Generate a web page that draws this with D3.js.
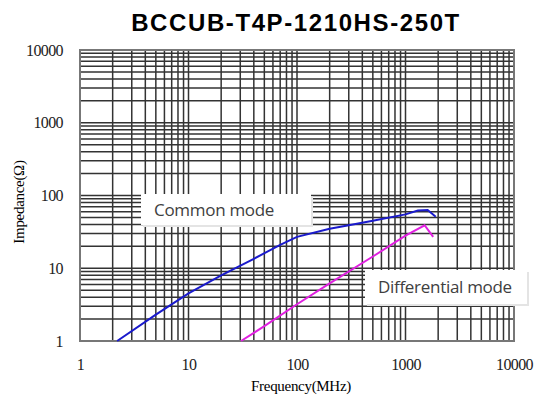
<!DOCTYPE html>
<html>
<head>
<meta charset="utf-8">
<script src="https://cdn.jsdelivr.net/npm/d3@7"></script>
<style>
  body { margin: 0; background: #fff; }
  svg { display: block; }
  .tick text { font-family: "Liberation Serif", "DejaVu Serif", serif; font-size: 16px; letter-spacing: -0.6px; fill: #222; }
  .lbl { font-family: "Open Sans", "Noto Sans", sans-serif; font-size: 17px; letter-spacing: -0.3px; fill: #404040; }
</style>
</head>
<body>
<svg id="chart" width="534" height="399"></svg>
<script>
// values (frequency MHz, impedance ohm)
const commonFreq = [2.2, 5, 10, 20, 40, 70, 100, 200, 300, 500, 1000, 1300, 1600, 1900];
const commonZ    = [1, 2.3, 4.5, 8, 13.5, 21, 27, 35, 39, 45, 55, 62, 63, 51];
const diffFreq = [30.5, 50, 100, 200, 500, 1000, 1500, 1800];
const diffZ    = [1, 1.6, 3.2, 6.2, 14.5, 28, 39, 27];
const xTicks = [1, 10, 100, 1000, 10000];
const yTicks = [1, 10, 100, 1000, 10000];

const svg = d3.select("#chart");
const margin = { left: 80, right: 20, top: 50, bottom: 58 };
const width = 534 - margin.left - margin.right;
const height = 399 - margin.top - margin.bottom;

const x = d3.scaleLog().domain([1, 10000]).range([0, width]);
const y = d3.scaleLog().domain([1, 10000]).range([height, 0]);

svg.append("text")
  .attr("x", 296)
  .attr("y", 31)
  .attr("text-anchor", "middle")
  .style("font-family", "Liberation Sans, Arial, sans-serif")
  .style("font-weight", "bold")
  .style("font-size", "24px")
  .style("letter-spacing", "1.6px")
  .text("BCCUB-T4P-1210HS-250T");

const g = svg.append("g").attr("transform", `translate(${margin.left},${margin.top})`);

// grid: every 1..9 in each decade
const gridVals = [];
for (let d = 1; d < 10000; d *= 10) {
  for (let k = 1; k < 10; k++) gridVals.push(d * k);
}
gridVals.push(10000);

g.append("g").selectAll("line")
  .data(gridVals)
  .enter()
  .append("line")
  .attr("x1", d => x(d)).attr("x2", d => x(d))
  .attr("y1", 0).attr("y2", height)
  .attr("stroke", "#333")
  .attr("stroke-width", 1.5);

g.append("g").selectAll("line")
  .data(gridVals)
  .enter()
  .append("line")
  .attr("y1", d => y(d)).attr("y2", d => y(d))
  .attr("x1", 0).attr("x2", width)
  .attr("stroke", "#333")
  .attr("stroke-width", 1.5);

g.append("rect")
  .attr("width", width)
  .attr("height", height)
  .attr("fill", "none")
  .attr("stroke", "#777")
  .attr("stroke-width", 2);

// labels boxes
function labelBox(bx, by, bw, bh, text) {
  g.append("rect")
    .attr("x", bx + 2).attr("y", by + 2)
    .attr("width", bw).attr("height", bh)
    .attr("fill", "#e4e4e4");
  g.append("rect")
    .attr("x", bx).attr("y", by)
    .attr("width", bw).attr("height", bh)
    .attr("fill", "#fff");
  g.append("text")
    .attr("class", "lbl")
    .attr("x", bx + 13).attr("y", by + bh / 2 + 6)
    .text(text);
}

const line = d3.line()
  .x(d => x(d[0]))
  .y(d => y(d[1]));

g.append("path")
  .datum(commonFreq.map((f, i) => [f, commonZ[i]]))
  .attr("d", line)
  .attr("fill", "none")
  .attr("stroke", "#1a1acc")
  .attr("stroke-width", 2);

g.append("path")
  .datum(diffFreq.map((f, i) => [f, diffZ[i]]))
  .attr("d", line)
  .attr("fill", "none")
  .attr("stroke", "#e020e0")
  .attr("stroke-width", 2);

labelBox(61, 144, 170, 31, "Common mode");
labelBox(285, 220, 162, 34, "Differential mode");

// axes (labels only)
const xAxis = g.append("g")
  .attr("transform", `translate(0,${height})`)
  .call(d3.axisBottom(x).tickValues(xTicks).tickFormat(d3.format("d")).tickSize(0).tickPadding(18));
xAxis.select(".domain").remove();

const yAxis = g.append("g")
  .call(d3.axisLeft(y).tickValues(yTicks).tickFormat(d3.format("d")).tickSize(0).tickPadding(17));
yAxis.select(".domain").remove();

svg.append("text")
  .attr("x", 301)
  .attr("y", 391)
  .attr("text-anchor", "middle")
  .style("font-family", "Liberation Serif, serif")
  .style("font-size", "15px")
  .style("letter-spacing", "-0.3px")
  .text("Frequency(MHz)");

svg.append("text")
  .attr("transform", "translate(24,202) rotate(-90)")
  .attr("text-anchor", "middle")
  .style("font-family", "Liberation Serif, serif")
  .style("font-size", "15px")
  .style("letter-spacing", "-0.3px")
  .text("Impedance(Ω)");
</script>
</body>
</html>
